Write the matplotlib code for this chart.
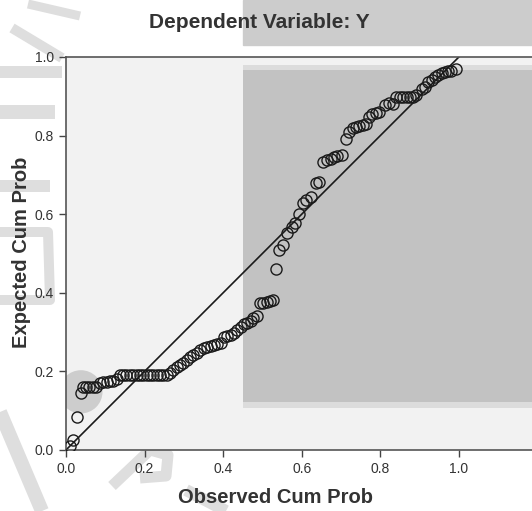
import matplotlib
matplotlib.use('Agg')
import matplotlib.pyplot as plt
from matplotlib.patches import Rectangle, Circle
from matplotlib.lines import Line2D

plt.rcParams['font.family'] = ['Liberation Sans', 'DejaVu Sans']

# observed vs expected cumulative probabilities
observed = [
    0.010, 0.017, 0.027, 0.037, 0.044, 0.051, 0.059, 0.068, 0.076, 0.087,
    0.095, 0.104, 0.112, 0.120, 0.129, 0.137, 0.146, 0.154, 0.163, 0.171,
    0.180, 0.188, 0.197, 0.205, 0.214, 0.222, 0.231, 0.239, 0.248, 0.256,
    0.265, 0.273, 0.282, 0.290, 0.298, 0.307, 0.316, 0.324, 0.333, 0.341,
    0.351, 0.360, 0.368, 0.377, 0.385, 0.394, 0.402, 0.410, 0.419, 0.427,
    0.436, 0.445, 0.453, 0.461, 0.470, 0.477, 0.485, 0.494, 0.502, 0.511,
    0.519, 0.526, 0.534, 0.543, 0.552, 0.563, 0.574, 0.583, 0.594, 0.604,
    0.612, 0.623, 0.636, 0.644, 0.655, 0.665, 0.674, 0.682, 0.690, 0.702,
    0.712, 0.721, 0.730, 0.738, 0.746, 0.755, 0.763, 0.772, 0.780, 0.789,
    0.797, 0.812, 0.823, 0.833, 0.841, 0.850, 0.858, 0.867, 0.875, 0.884,
    0.892, 0.905, 0.914, 0.922, 0.931, 0.939, 0.947, 0.956, 0.964, 0.973,
    0.981, 0.992,
]
expected = [
    0.010, 0.025, 0.085, 0.146, 0.159, 0.159, 0.159, 0.159, 0.159, 0.170,
    0.172, 0.174, 0.175, 0.176, 0.180, 0.191, 0.191, 0.191, 0.191, 0.191,
    0.191, 0.191, 0.191, 0.191, 0.191, 0.191, 0.191, 0.191, 0.191, 0.191,
    0.196, 0.204, 0.212, 0.216, 0.222, 0.229, 0.237, 0.242, 0.247, 0.254,
    0.259, 0.263, 0.265, 0.267, 0.270, 0.272, 0.287, 0.290, 0.293, 0.298,
    0.305, 0.312, 0.321, 0.324, 0.329, 0.335, 0.341, 0.373, 0.375, 0.377,
    0.380, 0.382, 0.461, 0.509, 0.522, 0.551, 0.568, 0.577, 0.601, 0.629,
    0.636, 0.643, 0.679, 0.683, 0.734, 0.738, 0.741, 0.745, 0.748, 0.751,
    0.792, 0.810, 0.819, 0.823, 0.824, 0.827, 0.829, 0.847, 0.855, 0.858,
    0.861, 0.878, 0.882, 0.881, 0.899, 0.899, 0.899, 0.899, 0.899, 0.899,
    0.903, 0.918, 0.924, 0.937, 0.941, 0.948, 0.954, 0.959, 0.962, 0.965,
    0.965, 0.969,
]
ticks = [0.0, 0.2, 0.4, 0.6, 0.8, 1.0]
tick_labels = ['0.0', '0.2', '0.4', '0.6', '0.8', '1.0']

W, H = 532, 511


def px(x, y):
    # pixel position (from top left) -> figure fraction
    return x / W, 1 - y / H


def stroke(fig, pts, width, color='#dedede'):
    xs = [px(x, y)[0] for x, y in pts]
    ys = [px(x, y)[1] for x, y in pts]
    fig.add_artist(Line2D(xs, ys, transform=fig.transFigure, lw=width * 0.72,
                          color=color, solid_capstyle='butt', zorder=0))


fig = plt.figure(figsize=(5.32, 5.11), dpi=100)
ax = fig.add_axes([0.124, 0.1194, 0.876, 0.7691])
ax.set_facecolor('#f2f2f2')

# faint watermark strokes in the margins
stroke(fig, [(28, 4), (80, 16)], 9)
stroke(fig, [(12, 28), (62, 58)], 10)
stroke(fig, [(0, 72), (62, 72)], 12)
stroke(fig, [(0, 112), (55, 112)], 14)
stroke(fig, [(0, 186), (50, 186)], 12)
stroke(fig, [(0, 232), (48, 232), (50, 300), (0, 300)], 10)
stroke(fig, [(0, 412), (42, 511)], 14)
stroke(fig, [(112, 486), (150, 450), (168, 455), (166, 476), (140, 478)], 11)
stroke(fig, [(186, 490), (226, 511)], 12)

# grey blocks
fig.patches.append(Rectangle(px(243, 45), 289 / W, 45 / H,
                             transform=fig.transFigure, color='#cccccc', zorder=0))
ax.add_patch(Rectangle((0.450, 0.107), 0.8, 0.872, color='#dcdcdc', zorder=0.5, lw=0))
ax.add_patch(Rectangle((0.450, 0.122), 0.8, 0.845, color='#c2c2c2', zorder=0.6, lw=0))
ax.add_patch(Circle((0.038, 0.148), 0.055, color='#cdcdcd', zorder=0.5, lw=0))

ax.plot([0, 1], [0, 1], color='#1a1a1a', lw=1.2, zorder=2)
ax.plot(observed, expected, 'o', mfc='none', mec='#1a1a1a', ms=8, mew=1.0, zorder=3)

ax.set_xlim(0, 1.186)
ax.set_ylim(0, 1.0)
ax.set_xticks(ticks)
ax.set_xticklabels(tick_labels)
ax.set_yticks(ticks)
ax.set_yticklabels(tick_labels)
ax.tick_params(direction='out', length=5, width=1, colors='#444444',
               labelcolor='#333333', labelsize=10)
for side in ['left', 'bottom', 'top']:
    ax.spines[side].set_color('#555555')
    ax.spines[side].set_linewidth(1.2)
ax.spines['right'].set_visible(False)

fig.text(*px(259, 22), 'Dependent Variable: Y', ha='center', va='center',
         fontsize=15, fontweight='bold', color='#333333')
fig.text(*px(275, 497), 'Observed Cum Prob', ha='center', va='center',
         fontsize=14.5, fontweight='bold', color='#333333')
fig.text(*px(22, 252), 'Expected Cum Prob', ha='center', va='center',
         rotation=90, fontsize=14.5, fontweight='bold', color='#333333')

fig.savefig('out.png', dpi=100)
